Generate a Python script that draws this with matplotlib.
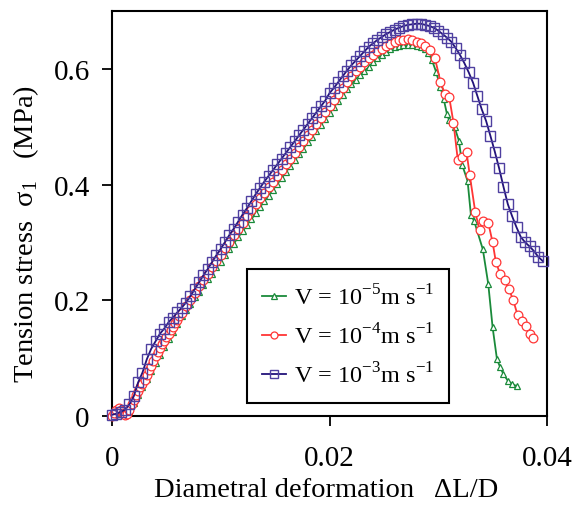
import matplotlib as mpl
mpl.use('Agg')
import matplotlib.pyplot as plt

mpl.rcParams['font.family'] = ['Liberation Serif', 'DejaVu Serif']
mpl.rcParams['mathtext.fontset'] = 'custom'
mpl.rcParams['mathtext.rm'] = 'Liberation Serif'
mpl.rcParams['axes.unicode_minus'] = False

# %% data (x = dL/D, y = tension stress in MPa)
x_v5 = [0.0000, 0.0004, 0.0008, 0.0012, 0.0016, 0.0020, 0.0024, 0.0028, 0.0032, 0.0036,
        0.0040, 0.0044, 0.0048, 0.0052, 0.0056, 0.0060, 0.0064, 0.0068, 0.0072, 0.0076,
        0.0080, 0.0084, 0.0088, 0.0092, 0.0096, 0.0100, 0.0104, 0.0108, 0.0112, 0.0116,
        0.0120, 0.0124, 0.0128, 0.0132, 0.0136, 0.0140, 0.0144, 0.0148, 0.0152, 0.0156,
        0.0160, 0.0164, 0.0168, 0.0172, 0.0176, 0.0180, 0.0184, 0.0188, 0.0192, 0.0196,
        0.0200, 0.0204, 0.0208, 0.0212, 0.0216, 0.0220, 0.0224, 0.0228, 0.0232, 0.0236,
        0.0240, 0.0244, 0.0248, 0.0252, 0.0256, 0.0260, 0.0264, 0.0268, 0.0272, 0.0276,
        0.0280, 0.0284,
        0.0288, 0.0291, 0.0294, 0.0298, 0.0302, 0.0305, 0.0308, 0.0310, 0.0315, 0.0319,
        0.0322, 0.0327, 0.0330, 0.0333, 0.0341, 0.0346, 0.0350, 0.0354, 0.0357, 0.0360,
        0.0364, 0.0368, 0.0372]
y_v5 = [0.000, 0.003, 0.004, 0.003, 0.008, 0.022, 0.036, 0.050, 0.064, 0.078,
        0.092, 0.106, 0.120, 0.133, 0.146, 0.159, 0.172, 0.184, 0.194, 0.205,
        0.215, 0.226, 0.236, 0.246, 0.257, 0.267, 0.278, 0.288, 0.298, 0.309,
        0.319, 0.330, 0.340, 0.350, 0.361, 0.371, 0.381, 0.391, 0.401, 0.411,
        0.422, 0.432, 0.442, 0.452, 0.462, 0.473, 0.483, 0.493, 0.503, 0.513,
        0.524, 0.534, 0.544, 0.555, 0.565, 0.574, 0.581, 0.589, 0.596, 0.603,
        0.611, 0.618, 0.624, 0.629, 0.634, 0.638, 0.640, 0.641, 0.641, 0.641,
        0.639, 0.638,
        0.634, 0.628, 0.616, 0.595, 0.568, 0.548, 0.522, 0.511, 0.499, 0.476,
        0.434, 0.406, 0.348, 0.337, 0.288, 0.228, 0.153, 0.098, 0.084, 0.072,
        0.061, 0.055, 0.052]

x_v4 = [0.0000, 0.0002, 0.0004, 0.0006, 0.0008, 0.0010, 0.0012, 0.0014, 0.0016, 0.0018,
        0.0020, 0.0022, 0.0024, 0.0026, 0.0028, 0.0030, 0.0032, 0.0034, 0.0036, 0.0038,
        0.0040, 0.0042, 0.0044, 0.0046, 0.0048, 0.0050, 0.0052, 0.0054, 0.0056, 0.0058,
        0.0060, 0.0062, 0.0064,
        0.0068, 0.0072, 0.0076, 0.0080, 0.0084, 0.0088, 0.0092, 0.0096, 0.0100, 0.0104,
        0.0108, 0.0112, 0.0116, 0.0120, 0.0124, 0.0128, 0.0132, 0.0136, 0.0140, 0.0144,
        0.0148, 0.0152, 0.0156, 0.0160, 0.0164, 0.0168, 0.0172, 0.0176, 0.0180, 0.0184,
        0.0188, 0.0192, 0.0196, 0.0200, 0.0204, 0.0208, 0.0212, 0.0216, 0.0220, 0.0224,
        0.0228, 0.0232, 0.0236, 0.0240, 0.0244, 0.0248, 0.0252, 0.0256, 0.0260, 0.0264,
        0.0268, 0.0272, 0.0276,
        0.0280, 0.0284, 0.0288, 0.0292, 0.0297, 0.0302, 0.0306, 0.0310, 0.0314, 0.0318,
        0.0322, 0.0326, 0.0329, 0.0334, 0.0338, 0.0341, 0.0346, 0.0350, 0.0353, 0.0357,
        0.0361, 0.0365, 0.0369, 0.0373, 0.0377, 0.0381, 0.0384, 0.0387]
y_v4 = [0.000, 0.006, 0.011, 0.013, 0.010, 0.005, 0.002, 0.004, 0.011, 0.020,
        0.028, 0.036, 0.044, 0.050, 0.056, 0.063, 0.071, 0.079, 0.087, 0.095,
        0.103, 0.111, 0.118, 0.124, 0.130, 0.136, 0.142, 0.148, 0.154, 0.160,
        0.166, 0.172, 0.178,
        0.190, 0.201, 0.213, 0.224, 0.235, 0.246, 0.257, 0.268, 0.279, 0.290,
        0.301, 0.312, 0.323, 0.334, 0.345, 0.356, 0.367, 0.376, 0.385, 0.395,
        0.405, 0.415, 0.425, 0.435, 0.445, 0.455, 0.465, 0.475, 0.485, 0.495,
        0.505, 0.515, 0.525, 0.535, 0.546, 0.556, 0.567, 0.577, 0.587, 0.596,
        0.604, 0.611, 0.618, 0.624, 0.630, 0.635, 0.639, 0.643, 0.646, 0.649,
        0.650, 0.651, 0.650,
        0.647, 0.645, 0.640, 0.632, 0.618, 0.578, 0.557, 0.552, 0.507, 0.442,
        0.448, 0.456, 0.416, 0.353, 0.321, 0.337, 0.334, 0.300, 0.266, 0.245,
        0.235, 0.219, 0.200, 0.174, 0.164, 0.155, 0.141, 0.134]

x_v3 = [0.0000, 0.0004, 0.0008, 0.0012, 0.0016, 0.0020, 0.0024, 0.0028, 0.0032, 0.0036,
        0.0040, 0.0044, 0.0048, 0.0052, 0.0056, 0.0060, 0.0064, 0.0068, 0.0072, 0.0076,
        0.0080, 0.0084, 0.0088, 0.0092, 0.0096, 0.0100, 0.0104, 0.0108, 0.0112, 0.0116,
        0.0120, 0.0124, 0.0128, 0.0132, 0.0136, 0.0140, 0.0144, 0.0148, 0.0152, 0.0156,
        0.0160, 0.0164, 0.0168, 0.0172, 0.0176, 0.0180, 0.0184, 0.0188, 0.0192, 0.0196,
        0.0200, 0.0204, 0.0208, 0.0212, 0.0216, 0.0220, 0.0224, 0.0228, 0.0232, 0.0236,
        0.0240, 0.0244, 0.0248, 0.0252, 0.0256, 0.0260, 0.0264, 0.0268, 0.0272, 0.0276,
        0.0280, 0.0284, 0.0288, 0.0292, 0.0296, 0.0300, 0.0304, 0.0308, 0.0312, 0.0316,
        0.0320, 0.0324, 0.0328, 0.0332, 0.0336, 0.0340, 0.0344, 0.0348, 0.0352, 0.0356,
        0.0360, 0.0364, 0.0368, 0.0372, 0.0376, 0.0380, 0.0384, 0.0388, 0.0392, 0.0396]
y_v3 = [0.002, 0.004, 0.007, 0.011, 0.020, 0.034, 0.058, 0.075, 0.098, 0.116,
        0.129, 0.142, 0.151, 0.162, 0.170, 0.179, 0.187, 0.196, 0.207, 0.219,
        0.231, 0.243, 0.254, 0.266, 0.278, 0.289, 0.301, 0.313, 0.324, 0.336,
        0.348, 0.359, 0.371, 0.383, 0.394, 0.405, 0.415, 0.425, 0.435, 0.445,
        0.455, 0.465, 0.475, 0.485, 0.495, 0.505, 0.515, 0.525, 0.535, 0.545,
        0.558, 0.567, 0.577, 0.587, 0.597, 0.606, 0.614, 0.622, 0.630, 0.638,
        0.644, 0.650, 0.655, 0.660, 0.664, 0.668, 0.671, 0.674, 0.676, 0.677,
        0.678, 0.678, 0.676, 0.674, 0.671, 0.666, 0.660, 0.654, 0.647, 0.636,
        0.624, 0.610, 0.594, 0.576, 0.553, 0.530, 0.510, 0.484, 0.457, 0.428,
        0.396, 0.366, 0.345, 0.326, 0.309, 0.300, 0.293, 0.285, 0.275, 0.268]

labels = [r'V = 10$^{\mathregular{-5}}$m s$^{\mathregular{-1}}$',
          r'V = 10$^{\mathregular{-4}}$m s$^{\mathregular{-1}}$',
          r'V = 10$^{\mathregular{-3}}$m s$^{\mathregular{-1}}$']
x_ticks = [0, 0.02, 0.04]
x_ticklabels = ['0', '0.02', '0.04']
y_ticks = [0, 0.2, 0.4, 0.6]
y_ticklabels = ['0', '0.2', '0.4', '0.6']

# %% plot
green = '#1a8a3a'
red = '#ff3535'
navy = '#22127a'

fig = plt.figure(figsize=(5.75, 5.06), dpi=100)
ax = fig.add_axes([0.1948, 0.1759, 0.7565, 0.8004])

ax.plot(x_v5, y_v5, color=green, lw=1.3, marker='^', ms=5, mfc='white',
        mec=green, mew=0.9, label=labels[0], clip_on=False, zorder=3)
ax.plot(x_v4, y_v4, color=red, lw=1.3, marker='o', ms=6.3, mfc='white',
        mec=red, mew=0.9, label=labels[1], clip_on=False, zorder=4)
ax.plot(x_v3, y_v3, color=navy, lw=1.3, marker='s', ms=6.5, mfc='none',
        mec='#4f40a0', mew=1.0, label=labels[2], clip_on=False, zorder=5)

ax.set_xlim(0, 0.04)
ax.set_ylim(0, 0.7)
ax.set_xticks(x_ticks)
ax.set_xticklabels(x_ticklabels)
ax.set_yticks(y_ticks)
ax.set_yticklabels(y_ticklabels)
ax.tick_params(axis='both', direction='out', length=7, width=1.3, labelsize=21)
ax.tick_params(axis='x', pad=14)
ax.tick_params(axis='y', pad=9)
for sp in ax.spines.values():
    sp.set_linewidth(1.5)

ax.set_xlabel('Diametral deformation   \u0394L/D', fontsize=20.5)
ax.xaxis.set_label_coords(0.492, -0.15)
ax.set_ylabel('Tension stress  \u03c3$_{\\mathregular{1}}$   (MPa)', fontsize=20.5)
ax.yaxis.set_label_coords(-0.163, 0.452)

leg = ax.legend(loc='lower left', bbox_to_anchor=(0.31, 0.032), fontsize=17.5,
                frameon=True, fancybox=False, edgecolor='black', framealpha=1,
                handlelength=1.0, handletextpad=0.3, labelspacing=0.58,
                borderpad=0.62, borderaxespad=0, markerscale=0.8)
leg.get_frame().set_linewidth(1.5)

fig.savefig('out.png', dpi=100)
